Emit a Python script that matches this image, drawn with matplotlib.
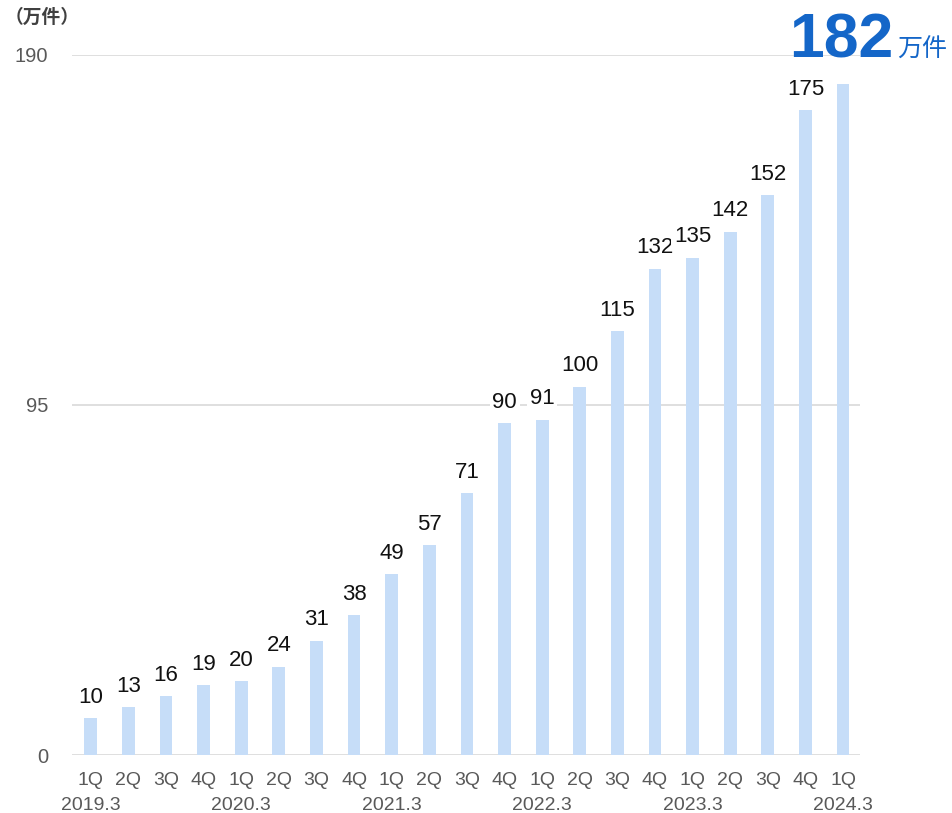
import matplotlib
matplotlib.use("Agg")
import matplotlib.pyplot as plt

plt.rcParams['font.family'] = ['Liberation Sans', 'Noto Sans CJK JP', 'DejaVu Sans']

quarters = ["1Q", "2Q", "3Q", "4Q", "1Q", "2Q", "3Q", "4Q", "1Q", "2Q", "3Q", "4Q",
            "1Q", "2Q", "3Q", "4Q", "1Q", "2Q", "3Q", "4Q", "1Q"]
years = ["2019.3", "2020.3", "2021.3", "2022.3", "2023.3", "2024.3"]
year_idx = [0, 4, 8, 12, 16, 20]
values = [10, 13, 16, 19, 20, 24, 31, 38, 49, 57, 71, 90, 91, 100, 115, 132, 135, 142, 152, 175, 182]
yticks = [0, 95, 190]
unit = "（万件）"
highlight = "182"
highlight_unit = "万件"

fig = plt.figure(figsize=(9.53, 8.13), dpi=100)
ax = fig.add_axes([72/953, 1-755/813, (860-72)/953, (755-55)/813])

x = list(range(len(values)))
ax.bar(x, values, width=0.34, color="#c6ddf8", zorder=2)
ax.set_xlim(-0.5, 20.45)
ax.set_ylim(0, 190)
ax.set_yticks(yticks)
ax.set_yticklabels([str(t) for t in yticks], fontsize=14.5, color="#595959")
ax.tick_params(axis='y', length=0, pad=17)
ax.tick_params(axis='x', length=0)
ax.set_xticks([])
for s in ax.spines.values():
    s.set_visible(False)
for t in yticks:
    ax.axhline(t, color="#d9d9d9", lw=1.2, zorder=1)

for i, v in enumerate(values[:-1]):
    ax.annotate(str(v), (i, v), xytext=(0, 7.5), textcoords="offset points",
                ha="center", va="bottom", fontsize=16, color="#111111", zorder=4,
                bbox=dict(boxstyle="square,pad=0.12", fc="white", ec="none"))

trans = ax.get_xaxis_transform()
for i, q in enumerate(quarters):
    ax.text(i, -0.024, q, transform=trans, ha="center", va="top", fontsize=14, color="#595959")
for i, yl in zip(year_idx, years):
    ax.text(i, -0.06, yl, transform=trans, ha="center", va="top", fontsize=14, color="#595959")

fig.text(5/953, 1-18/813, unit, ha="left", va="center", fontsize=13.5, color="#404040", fontweight="bold")
fig.text(893/953, 1-57/813, highlight, ha="right", va="baseline", fontsize=45, fontweight="bold", color="#1466c8")
fig.text(897/953, 1-57/813, highlight_unit, ha="left", va="baseline", fontsize=18, color="#1466c8")

fig.savefig("out.png", dpi=100)
